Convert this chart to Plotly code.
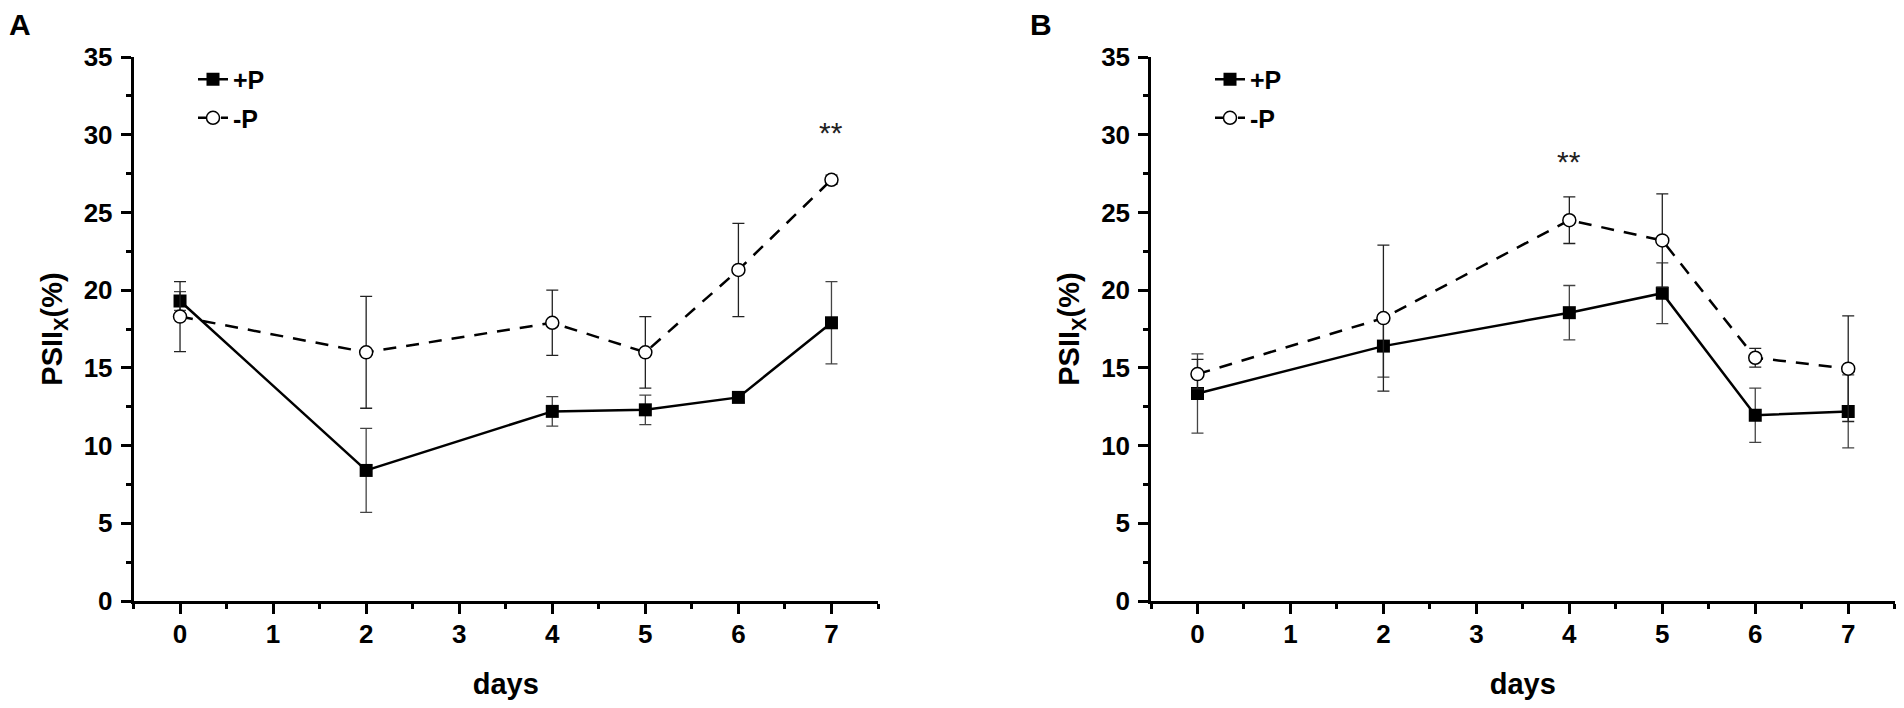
import plotly.graph_objects as go

days = [0, 2, 4, 5, 6, 7]

a_plus = [19.3, 8.4, 12.2, 12.3, 13.1, 17.9]
a_plus_err = [0.6, 2.7, 0.95, 0.95, 0.3, 2.65]
a_minus = [18.3, 16.0, 17.9, 16.0, 21.3, 27.1]
a_minus_err = [2.25, 3.6, 2.1, 2.3, 3.0, 0.3]

b_plus = [13.35, 16.4, 18.55, 19.8, 11.95, 12.2]
b_plus_err = [2.55, 2.0, 1.75, 1.95, 1.75, 2.35]
b_minus = [14.6, 18.2, 24.5, 23.2, 15.65, 14.95]
b_minus_err = [0.95, 4.7, 1.5, 3.0, 0.6, 3.4]

series_names = ["+P", "-P"]
x_ticks = [0, 1, 2, 3, 4, 5, 6, 7]
y_ticks = [0, 5, 10, 15, 20, 25, 30, 35]
panel_labels = ["A", "B"]
sig_a = {"x": 7, "y": 30.15, "text": "**"}
sig_b = {"x": 4, "y": 28.3, "text": "**"}

FONT = "Liberation Sans"
# the page body adds an 8px margin on each side, so the figure is 16px smaller
W, H = 1888, 692
OFF = 8

fig = go.Figure()


def add_pair(plus, plus_err, minus, minus_err, xa, ya, legend):
    fig.add_trace(go.Scatter(
        x=days, y=plus, name=series_names[0], xaxis=xa, yaxis=ya, legend=legend,
        legendgroup=legend + "p", mode="lines+markers",
        line=dict(color="black", width=2.5),
        marker=dict(symbol="square", size=13, color="black"),
        error_y=dict(type="data", array=plus_err, visible=True, color="#444",
                     thickness=1.3, width=6),
    ))
    fig.add_trace(go.Scatter(
        x=days, y=minus, name=series_names[1], xaxis=xa, yaxis=ya, legend=legend,
        legendgroup=legend + "m", mode="lines+markers",
        line=dict(color="black", width=2.5, dash="13px,10px"),
        marker=dict(symbol="circle", size=13, color="white",
                    line=dict(color="black", width=1.5)),
        error_y=dict(type="data", array=minus_err, visible=True, color="#222",
                     thickness=1.3, width=6),
    ))


add_pair(a_plus, a_plus_err, a_minus, a_minus_err, "x", "y", "legend")
add_pair(b_plus, b_plus_err, b_minus, b_minus_err, "x2", "y2", "legend2")

tickfont = dict(family=FONT, size=26, color="black", weight=700)
titlefont = dict(family=FONT, size=29, color="black", weight=700)

xcommon = dict(
    range=[-0.5, 7.5], tickmode="array", tickvals=x_ticks,
    ticks="outside", ticklen=10, tickwidth=2.5, tickcolor="black",
    showline=True, linewidth=2.5, linecolor="black", showgrid=False,
    zeroline=False, tickfont=tickfont, ticklabelstandoff=-2,
    minor=dict(dtick=0.5, tick0=0, ticks="outside", ticklen=5,
               tickwidth=2.5, tickcolor="black", showgrid=False),
    title=dict(text="days", font=titlefont, standoff=31),
)
ycommon = dict(
    range=[0, 35], tickmode="array", tickvals=y_ticks,
    ticks="outside", ticklen=10, tickwidth=2.5, tickcolor="black",
    showline=True, linewidth=2.5, linecolor="black", showgrid=False,
    zeroline=False, tickfont=tickfont, ticklabelstandoff=3,
    minor=dict(dtick=2.5, tick0=0, ticks="outside", ticklen=5,
               tickwidth=2.5, tickcolor="black", showgrid=False),
    title=dict(text="PSII<sub>X</sub>(%)", font=titlefont, standoff=13),
)


def px(sx):
    return (sx - OFF) / W


def py(sy):
    return (603.3 - sy) / 546.0


legfont = dict(family=FONT, size=25, color="black", weight=700)

fig.update_layout(
    width=W, height=H,
    margin=dict(l=0, r=0, t=49, b=97),
    paper_bgcolor="white", plot_bgcolor="white",
    xaxis=dict(domain=[px(133.5), px(878)], anchor="y", **xcommon),
    yaxis=dict(domain=[0, 1], anchor="x", **ycommon),
    xaxis2=dict(domain=[px(1151), px(1894.7)], anchor="y2", **xcommon),
    yaxis2=dict(domain=[0, 1], anchor="x2", **ycommon),
    legend=dict(x=px(193), y=py(99), xanchor="left", yanchor="middle",
                font=legfont, bgcolor="rgba(0,0,0,0)", tracegroupgap=3, itemwidth=30),
    legend2=dict(x=px(1210), y=py(99), xanchor="left", yanchor="middle",
                 font=legfont, bgcolor="rgba(0,0,0,0)", tracegroupgap=3, itemwidth=30),
    showlegend=True,
)

for s, xr, yr in [(sig_a, "x", "y"), (sig_b, "x2", "y2")]:
    fig.add_annotation(x=s["x"], y=s["y"], xref=xr, yref=yr, text=s["text"],
                       showarrow=False, font=dict(family=FONT, size=30, color="#222"))

for lab, sx in zip(panel_labels, [20, 1041]):
    fig.add_annotation(x=px(sx), y=py(25), xref="paper", yref="paper",
                       text=lab, showarrow=False, xanchor="center", yanchor="middle",
                       font=dict(family=FONT, size=30, color="black", weight=700))

fig.write_html("out.html")
